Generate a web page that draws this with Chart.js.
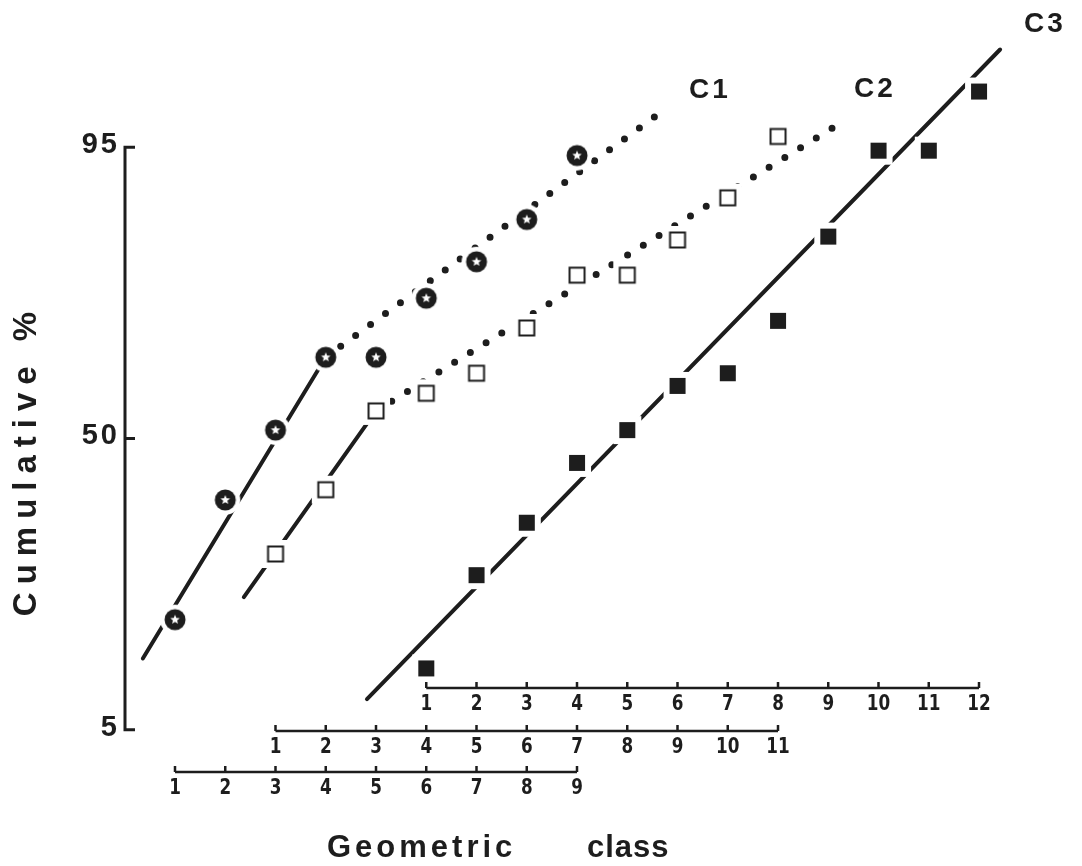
<!DOCTYPE html>
<html>
<head>
<meta charset="utf-8">
<script src="https://cdn.jsdelivr.net/npm/chart.js@4.4.1/dist/chart.umd.min.js"></script>
<style>
    html, body { margin: 0; padding: 0; background: #fff; }
    #wrap { width: 1082px; height: 866px; }
</style>
</head>
<body>
<div id="wrap"><canvas id="probChart" width="1082" height="866"></canvas></div>
<script>
// Cumulative % by geometric class, one list per curve
const classesC1 = [1, 2, 3, 4, 5, 6, 7, 8, 9];
const cumC1 = [15.3, 36.4, 51.9, 67.7, 67.7, 78.6, 84.1, 89.2, 94.5];

const classesC2 = [1, 2, 3, 4, 5, 6, 7, 8, 9, 10, 11];
const cumC2 = [25.7, 38.6, 56.2, 60.1, 64.4, 73.4, 82.2, 82.2, 86.9, 91.3, 95.6];

const classesC3 = [1, 2, 3, 4, 5, 6, 7, 8, 9, 10, 11, 12];
const cumC3 = [9.7, 22.0, 31.7, 44.5, 51.9, 61.7, 64.4, 74.7, 87.3, 94.8, 94.8, 97.5];

// fitted lines, [class, cumulative %] end points
const fitC1Solid = [[0.36, 10.7], [4, 67.7]];
const fitC1Dotted = [[4, 67.7], [10.65, 96.7]];
const fitC2Solid = [[0.37, 18.5], [3, 56.2]];
const fitC2Dotted = [[3, 56.2], [12.27, 96.3]];
const fitC3Solid = [[-0.18, 7.05], [12.42, 98.6]];

// tick labels
const yTickLabels = ['5', '50', '95'];
const xTickLabelsC1 = ['1', '2', '3', '4', '5', '6', '7', '8', '9'];
const xTickLabelsC2 = ['1', '2', '3', '4', '5', '6', '7', '8', '9', '10', '11'];
const xTickLabelsC3 = ['1', '2', '3', '4', '5', '6', '7', '8', '9', '10', '11', '12'];

const INK = '#1d1d1d';

// probability (probit) transform for the y axis
function probit(pct) {
    const p = pct / 100;
    const q = p < 0.5 ? p : 1 - p;
    const t = Math.sqrt(-2 * Math.log(q));
    const z = t - (2.515517 + 0.802853 * t + 0.010328 * t * t) /
        (1 + 1.432788 * t + 0.189269 * t * t + 0.001308 * t * t * t);
    return p < 0.5 ? -z : z;
}

const toPoints = (xs, ys) => xs.map((x, i) => ({ x: x, y: probit(ys[i]) }));
const toLine = (pairs) => pairs.map(p => ({ x: p[0], y: probit(p[1]) }));

// marker images (white halo cuts the fitted line like in the print)
function makeMarker(kind) {
    const c = document.createElement('canvas');
    c.width = 32; c.height = 32;
    const g = c.getContext('2d');
    g.fillStyle = '#fff';
    if (kind === 'star') {
        g.beginPath(); g.arc(16, 16, 15, 0, Math.PI * 2); g.fill();
        g.fillStyle = INK;
        g.beginPath(); g.arc(16, 16, 10.5, 0, Math.PI * 2); g.fill();
        g.fillStyle = '#fff';
        g.beginPath();
        for (let i = 0; i < 10; i++) {
            const r = i % 2 ? 2.2 : 5;
            const a = -Math.PI / 2 + i * Math.PI / 5;
            g.lineTo(16 + r * Math.cos(a), 16 + r * Math.sin(a));
        }
        g.closePath(); g.fill();
    } else {
        g.fillRect(2, 2, 28, 28);
        if (kind === 'open') {
            g.strokeStyle = INK; g.lineWidth = 2;
            g.strokeRect(8.5, 8.5, 15, 15);
        } else {
            g.fillStyle = INK;
            g.fillRect(8, 8, 16, 16);
        }
    }
    return c;
}

const markStar = makeMarker('star');
const markOpen = makeMarker('open');
const markFilled = makeMarker('filled');

// Axes, tick labels and titles drawn from the chart scales
const paperPlugin = {
    id: 'paper',
    afterDraw(chart) {
        const ctx = chart.ctx;
        const y = chart.scales.y;
        ctx.save();
        ctx.strokeStyle = INK;
        ctx.fillStyle = INK;

        // y axis
        const axX = 125;
        ctx.lineWidth = 3;
        ctx.beginPath();
        ctx.moveTo(axX + 10, y.getPixelForValue(probit(95)));
        ctx.lineTo(axX, y.getPixelForValue(probit(95)));
        ctx.lineTo(axX, y.getPixelForValue(probit(5)));
        ctx.lineTo(axX + 10, y.getPixelForValue(probit(5)));
        ctx.moveTo(axX, y.getPixelForValue(probit(50)));
        ctx.lineTo(axX + 10, y.getPixelForValue(probit(50)));
        ctx.stroke();

        ctx.font = 'bold 29px "Liberation Sans", Arial, sans-serif';
        ctx.letterSpacing = '3px';
        ctx.textAlign = 'right';
        ctx.textBaseline = 'middle';
        yTickLabels.forEach(lbl => {
            ctx.fillText(lbl, axX - 5, y.getPixelForValue(probit(parseFloat(lbl))) - 2);
        });

        // three class axes
        const xAxes = [
            { id: 'x3', labels: xTickLabelsC3, py: 688 },
            { id: 'x2', labels: xTickLabelsC2, py: 731 },
            { id: 'x1', labels: xTickLabelsC1, py: 772 }
        ];
        ctx.letterSpacing = '0px';
        ctx.font = 'bold 22px "Liberation Sans Narrow", "DejaVu Sans Condensed", sans-serif';
        ctx.textAlign = 'center';
        ctx.textBaseline = 'top';
        xAxes.forEach(ax => {
            const sc = chart.scales[ax.id];
            const n = ax.labels.length;
            ctx.lineWidth = 2.5;
            ctx.beginPath();
            ctx.moveTo(sc.getPixelForValue(1), ax.py);
            ctx.lineTo(sc.getPixelForValue(n), ax.py);
            ax.labels.forEach((lbl, i) => {
                const px = sc.getPixelForValue(i + 1);
                ctx.moveTo(px, ax.py);
                ctx.lineTo(px, ax.py - 6);
            });
            ctx.stroke();
            ax.labels.forEach((lbl, i) => {
                const px = sc.getPixelForValue(i + 1);
                ctx.save();
                ctx.translate(px, ax.py + 5);
                ctx.scale(0.85, 1);
                ctx.fillText(lbl, 0, 0);
                ctx.restore();
            });
        });

        // curve names
        ctx.font = 'bold 28px "Liberation Sans", Arial, sans-serif';
        ctx.letterSpacing = '3px';
        ctx.textAlign = 'left';
        ctx.textBaseline = 'alphabetic';
        ctx.fillText('C1', 689, 98);
        ctx.fillText('C2', 854, 97);
        ctx.fillText('C3', 1024, 32);

        // axis titles
        ctx.font = 'bold 31px "Liberation Sans", Arial, sans-serif';
        ctx.letterSpacing = '4px';
        ctx.fillText('Geometric', 327, 857);
        ctx.letterSpacing = '1px';
        ctx.fillText('class', 587, 857);

        ctx.save();
        ctx.translate(36, 460);
        ctx.rotate(-Math.PI / 2);
        ctx.textAlign = 'center';
        ctx.font = 'bold 33px "Liberation Sans", Arial, sans-serif';
        ctx.letterSpacing = '8px';
        ctx.fillText('Cumulative %', 0, 0);
        ctx.restore();

        ctx.restore();
    }
};

const lineDefaults = {
    showLine: true,
    pointRadius: 0,
    pointHoverRadius: 0,
    borderColor: INK,
    fill: false,
    tension: 0,
    order: 2
};

const dotted = { borderWidth: 7, borderDash: [0, 18.5], borderCapStyle: 'round' };
const solid = { borderWidth: 4, borderCapStyle: 'round' };

const probCtx = document.getElementById('probChart').getContext('2d');

const probChart = new Chart(probCtx, {
    type: 'scatter',
    data: {
        datasets: [
            { ...lineDefaults, ...solid, label: 'C1 fit', xAxisID: 'x1', data: toLine(fitC1Solid) },
            { ...lineDefaults, ...dotted, label: 'C1 fit (dotted)', xAxisID: 'x1', data: toLine(fitC1Dotted) },
            { ...lineDefaults, ...solid, label: 'C2 fit', xAxisID: 'x2', data: toLine(fitC2Solid) },
            { ...lineDefaults, ...dotted, label: 'C2 fit (dotted)', xAxisID: 'x2', data: toLine(fitC2Dotted) },
            { ...lineDefaults, ...solid, label: 'C3 fit', xAxisID: 'x3', data: toLine(fitC3Solid) },
            {
                label: 'C1', xAxisID: 'x1', data: toPoints(classesC1, cumC1),
                pointStyle: markStar, pointRadius: 10, order: 1
            },
            {
                label: 'C2', xAxisID: 'x2', data: toPoints(classesC2, cumC2),
                pointStyle: markOpen, pointRadius: 10, order: 1
            },
            {
                label: 'C3', xAxisID: 'x3', data: toPoints(classesC3, cumC3),
                pointStyle: markFilled, pointRadius: 10, order: 1
            }
        ]
    },
    options: {
        responsive: false,
        animation: false,
        clip: false,
        layout: { padding: 0, autoPadding: false },
        plugins: {
            legend: { display: false },
            tooltip: { enabled: false }
        },
        scales: {
            // one class step = 50.25 px, the three axes are shifted by 2 and 5 classes
            x1: { type: 'linear', display: false, min: -2.4826, max: 19.0497 },
            x2: { type: 'linear', display: false, min: -4.4826, max: 17.0497 },
            x3: { type: 'linear', display: false, min: -7.4826, max: 14.0497 },
            y: { type: 'linear', display: false, min: -2.4153, max: 2.4774 }
        }
    },
    plugins: [paperPlugin]
});
</script>
</body>
</html>
